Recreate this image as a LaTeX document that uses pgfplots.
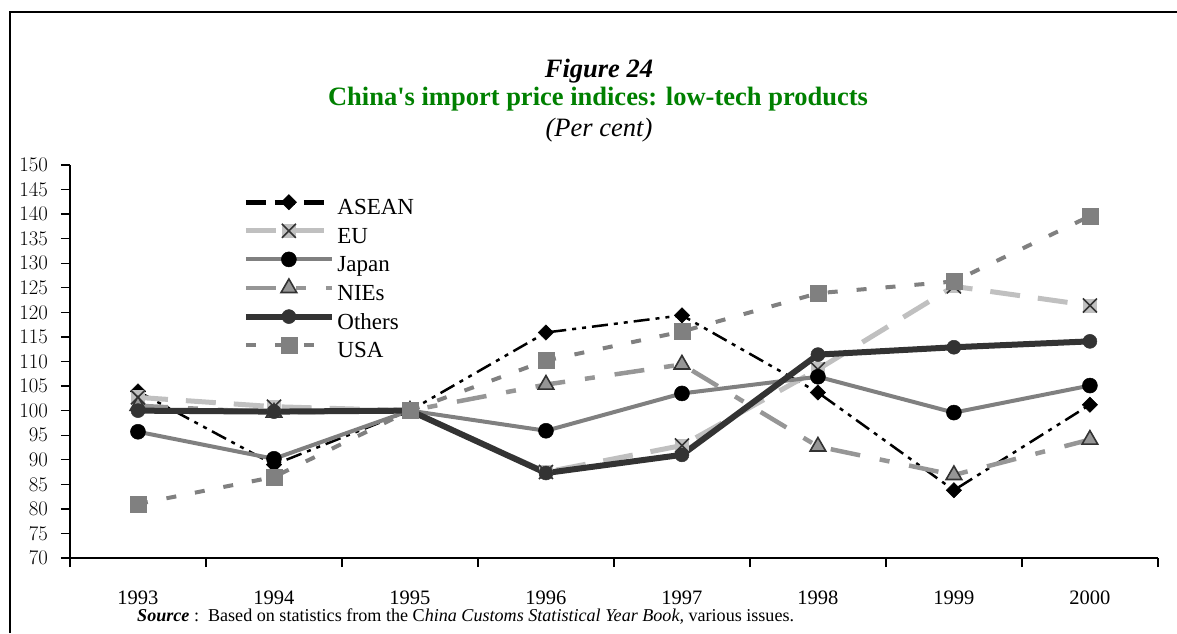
\documentclass[border=0pt]{standalone}
\usepackage{fontspec}
\setmainfont{Liberation Serif}
\newfontfamily\plainserif{Liberation Serif}
\usepackage{pgfplots}
\pgfplotsset{compat=1.18}
\definecolor{eu}{HTML}{C0C0C0}
\definecolor{jp}{HTML}{808080}
\definecolor{nie}{HTML}{969696}
\definecolor{oth}{HTML}{333333}
\definecolor{usa}{HTML}{808080}
\definecolor{ttlgreen}{HTML}{008000}
\pgfdeclareplotmark{sqx}{%
  \begin{pgfscope}
  \pgfsetfillcolor{eu}%
  \pgfpathrectangle{\pgfpoint{-\pgfplotmarksize}{-\pgfplotmarksize}}{\pgfpoint{2\pgfplotmarksize}{2\pgfplotmarksize}}%
  \pgfusepath{fill}%
  \end{pgfscope}
  \pgfsetstrokecolor{oth}%
  \pgfsetlinewidth{1.6pt}%
  \pgfsetdash{}{0pt}%
  \pgfpathmoveto{\pgfpoint{-\pgfplotmarksize}{-\pgfplotmarksize}}%
  \pgfpathlineto{\pgfpoint{\pgfplotmarksize}{\pgfplotmarksize}}%
  \pgfpathmoveto{\pgfpoint{-\pgfplotmarksize}{\pgfplotmarksize}}%
  \pgfpathlineto{\pgfpoint{\pgfplotmarksize}{-\pgfplotmarksize}}%
  \pgfusepathqstroke
}
\begin{document}
\begin{tikzpicture}[x=1pt,y=1pt]
\path[use as bounding box] (0,0) rectangle (1177,633);
\draw[line width=2.4pt] (10,0) -- (10,621) -- (1177,621);
\node[font=\fontsize{26.5}{30}\selectfont\bfseries\itshape, anchor=base, inner sep=0pt] at (599,555) {Figure 24};
\node[font=\fontsize{26.5}{30}\selectfont\plainserif\bfseries, text=ttlgreen, anchor=base, inner sep=0pt] at (598,527) {China's import price indices: low-tech products};
\node[font=\fontsize{26.5}{30}\selectfont\itshape, anchor=base, inner sep=0pt] at (599,496) {(Per cent)};
\node[font=\fontsize{18.1}{22}\selectfont, anchor=base west, inner sep=0pt] at (137,12) {\textbf{\textit{Source}} :\ \ Based on statistics from the C\textit{hina Customs Statistical Year Book,} various issues.};
\begin{axis}[
  at={(70pt,75pt)}, anchor=south west, scale only axis,
  width=1088pt, height=393pt,
  xmin=-0.5, xmax=7.5, ymin=70, ymax=150,
  axis x line=bottom, axis y line=left,
  axis line style={-, line width=1.6pt, black},
  tick align=outside, major tick length=9pt,
  tick style={line width=1.3pt, black},
  ytick={70,75,...,150},
  yticklabel style={font=\fontsize{19.5}{23}\selectfont, anchor=east, inner sep=0pt, xshift=-13pt},
  xtick={-0.5,0.5,...,7.5}, xticklabels={},
  extra x ticks={0,1,2,3,4,5,6,7},
  extra x tick labels={1993,1994,1995,1996,1997,1998,1999,2000},
  extra x tick style={major tick length=0pt, xticklabel style={font=\fontsize{20.5}{24}\selectfont, anchor=base, inner sep=0pt, yshift=-46pt}},
  clip=false,
  legend style={draw=none, fill=none, at={(axis description cs:0.1615,0.925)}, anchor=north west,
    font=\fontsize{23}{27}\selectfont, inner sep=0pt, row sep=0pt,
    nodes={inner sep=2.5pt, text height=16.2pt, text depth=6pt}},
  legend cell align=left,
  legend image code/.code={\pgfpathrectangle{\pgfpointorigin}{\pgfpoint{89pt}{15pt}}\pgfusepath{use as bounding box}%
    \draw[overlay, mark repeat=2,mark phase=2,#1] plot coordinates {(0pt,7.5pt)(43pt,7.5pt)(86pt,7.5pt)};},
]
\addplot[black, line width=2.5pt, dash pattern=on 16pt off 6pt on 4pt off 6pt on 4pt off 6pt, mark=square*, mark size=5.4pt, mark options={solid, rotate=45, fill=black, draw=black, line width=0.5pt},
  legend image post style={line width=5pt, dash pattern=on 20pt off 9pt}]
  coordinates {(0,103.9) (1,89.0) (2,100) (3,115.9) (4,119.4) (5,103.7) (6,83.8) (7,101.2)};
\addlegendentry{ASEAN}
\addplot[eu, line width=5pt, dash pattern=on 30pt off 18pt, mark=sqx, mark size=7pt]
  coordinates {(0,102.7) (1,100.8) (2,100) (3,87.5) (4,92.9) (5,108.4) (6,125.3) (7,121.4)};
\addlegendentry{EU}
\addplot[jp, line width=4pt, mark=*, mark size=7.5pt, mark options={fill=black, draw=black, line width=0.5pt}]
  coordinates {(0,95.7) (1,90.2) (2,100) (3,95.9) (4,103.5) (5,106.9) (6,99.6) (7,105.1)};
\addlegendentry{Japan}
\addplot[nie, line width=4.5pt, dash pattern=on 30pt off 20pt on 10pt off 20pt, mark=triangle*, mark size=9pt, mark options={solid, fill=nie, draw=oth, line width=1.6pt}]
  coordinates {(0,101.0) (1,99.6) (2,100) (3,105.3) (4,109.4) (5,92.7) (6,86.9) (7,94.1)};
\addlegendentry{NIEs}
\addplot[oth, line width=6pt, mark=*, mark size=7pt, mark options={fill=oth, draw=oth, line width=0.5pt}]
  coordinates {(0,100) (1,99.8) (2,100) (3,87.3) (4,91.0) (5,111.4) (6,112.9) (7,114.1)};
\addlegendentry{Others}
\addplot[usa, line width=4pt, dash pattern=on 10pt off 19pt, mark=square*, mark size=8pt, mark options={solid, fill=usa, draw=usa, line width=0.5pt}]
  coordinates {(0,81.0) (1,86.5) (2,100) (3,110.2) (4,116.1) (5,123.9) (6,126.3) (7,139.6)};
\addlegendentry{USA}
\end{axis}
\end{tikzpicture}
\end{document}
